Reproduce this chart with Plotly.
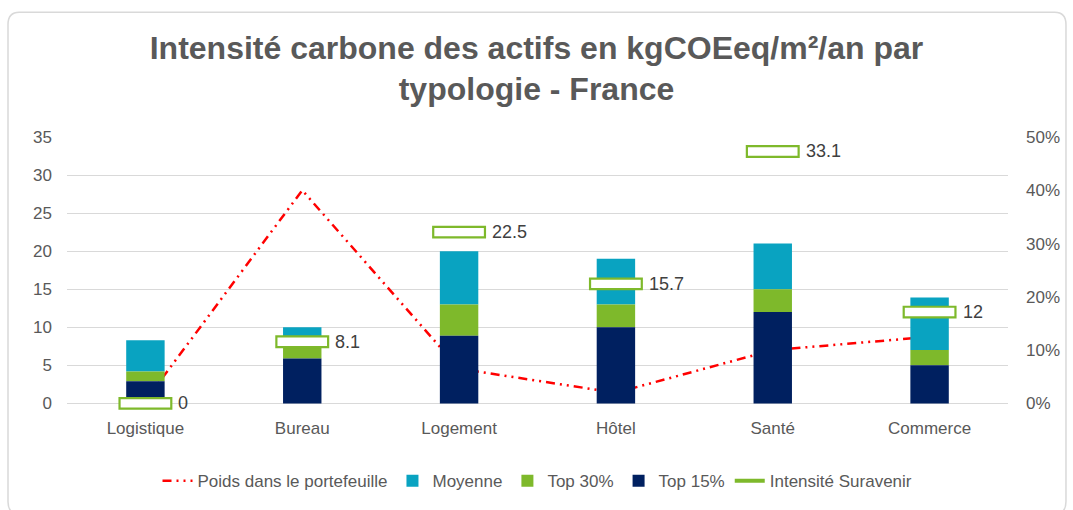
import plotly.graph_objects as go

# Asset types and values (kgCO2eq/m²/an)
categories = ["Logistique", "Bureau", "Logement", "Hôtel", "Santé", "Commerce"]
top15 = [2.9, 5.9, 8.9, 10.0, 12.0, 5.0]          # Top 15% threshold
top30_step = [1.3, 1.6, 4.1, 3.0, 3.0, 2.0]       # Top 30% increment above Top 15%
moyenne_step = [4.1, 2.5, 7.0, 6.0, 6.0, 6.9]     # Average increment above Top 30%
suravenir = [0, 8.1, 22.5, 15.7, 33.1, 12]        # Suravenir intensity
poids = [0.005, 0.40, 0.065, 0.02, 0.10, 0.125]   # portfolio weight

NAVY = "#002060"
GREEN = "#7eb92b"
TEAL = "#09a3c1"
RED = "#ff0000"
GRID = "#d9d9d9"
TXT = "#595959"
FONT = "Liberation Sans"

base30 = top15
base_moy = [a + b for a, b in zip(top15, top30_step)]

# a little room below zero so the box sitting on 0 is drawn whole
LOW = -1.0
Y_MAX, Y2_MAX = 35, 0.5

fig = go.Figure()

# weight line sits on the base (right-hand) axis so the bars are drawn over it
fig.add_trace(go.Scatter(
    x=categories, y=poids, name="Poids dans le portefeuille", yaxis="y",
    mode="lines", line=dict(color=RED, width=2.5, dash="9px,5px,2px,5px,2px,5px"),
    legendrank=1,
))
fig.add_trace(go.Bar(x=categories, y=moyenne_step, base=base_moy, name="Moyenne", yaxis="y2",
                     marker=dict(color=TEAL, line=dict(width=0)), width=0.245, legendrank=2))
fig.add_trace(go.Bar(x=categories, y=top30_step, base=base30, name="Top 30%", yaxis="y2",
                     marker=dict(color=GREEN, line=dict(width=0)), width=0.245, legendrank=3))
fig.add_trace(go.Bar(x=categories, y=top15, base=[0] * len(top15), name="Top 15%", yaxis="y2",
                     marker=dict(color=NAVY, line=dict(width=0)), width=0.245, legendrank=4))

# Suravenir intensity drawn as a hollow bar centred on each value
box_h = 1.4
fig.add_trace(go.Bar(
    x=categories, y=[box_h] * len(suravenir), base=[v - box_h / 2 for v in suravenir],
    name="Intensité Suravenir", showlegend=False, width=0.33, yaxis="y2",
    marker=dict(color="white", line=dict(color=GREEN, width=2.2)),
))
fig.add_trace(go.Scatter(
    x=[None], y=[None], mode="lines", name="Intensité Suravenir", yaxis="y2",
    line=dict(color=GREEN, width=4), legendrank=5,
))

for c, v in zip(categories, suravenir):
    fig.add_annotation(x=c, y=v, yref="y2", text=f"{v:g}", showarrow=False, xanchor="left",
                       xshift=31, font=dict(family=FONT, size=18, color="#404040"))

# rounded frame around the whole chart
x0, x1, y0, y1 = -0.0627, 1.0616, -0.376, 1.455
rx, ry = 0.012, 0.045
frame = (f"M {x0+rx},{y1} L {x1-rx},{y1} Q {x1},{y1} {x1},{y1-ry} "
         f"L {x1},{y0+ry} Q {x1},{y0} {x1-rx},{y0} L {x0+rx},{y0} "
         f"Q {x0},{y0} {x0},{y0+ry} L {x0},{y1-ry} Q {x0},{y1} {x0+rx},{y1} Z")

fig.update_layout(
    width=1073, height=510,
    margin=dict(l=67, r=65, t=137, b=98),
    paper_bgcolor="white", plot_bgcolor="white",
    barmode="overlay",
    title=dict(text="Intensité carbone des actifs en kgCOEeq/m²/an par<br>typologie - France",
               x=0.5, xanchor="center", y=0.885, yanchor="top",
               font=dict(family=FONT, size=32, color=TXT, weight="bold")),
    font=dict(family=FONT, color=TXT),
    xaxis=dict(showgrid=False, showline=False, ticks="", tickfont=dict(size=17, color=TXT),
               ticklabelstandoff=5),
    yaxis=dict(range=[LOW * Y2_MAX / Y_MAX, Y2_MAX], tick0=0, dtick=0.1, tickformat=".0%",
               side="right", showgrid=False, zeroline=False,
               tickfont=dict(size=17, color=TXT), ticklabelstandoff=17),
    yaxis2=dict(range=[LOW, Y_MAX], tick0=0, dtick=5, overlaying="y", side="left",
                showgrid=True, gridcolor=GRID, gridwidth=1.3,
                zeroline=True, zerolinecolor=GRID, zerolinewidth=1.3,
                tickfont=dict(size=17, color=TXT), ticklabelstandoff=14),
    legend=dict(orientation="h", x=0.5, xanchor="center", y=-0.252, yanchor="middle",
                font=dict(size=17, color=TXT), traceorder="normal",
                itemwidth=30, tracegroupgap=0),
    shapes=[dict(type="path", path=frame, xref="paper", yref="paper",
                 line=dict(color="#d9d9d9", width=1.5), layer="below")],
)

fig.write_html("out.html")
